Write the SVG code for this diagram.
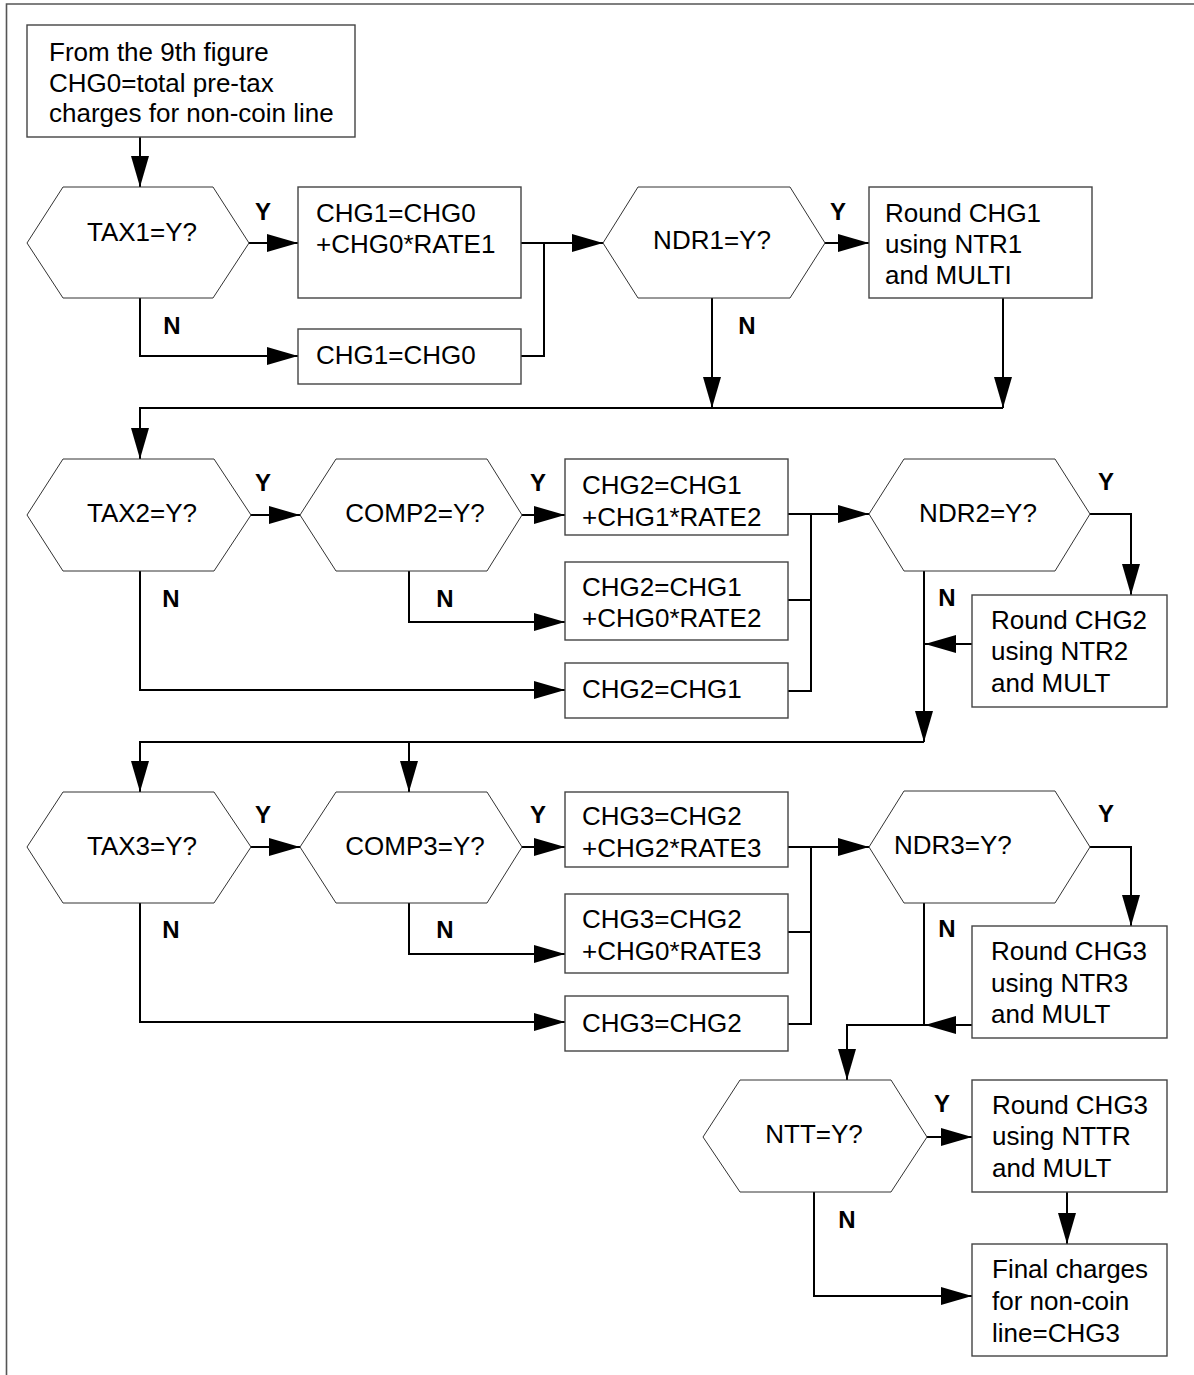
<svg xmlns="http://www.w3.org/2000/svg" width="1194" height="1375" viewBox="0 0 1194 1375">
<defs>
<marker id="ah" markerUnits="userSpaceOnUse" markerWidth="32" markerHeight="18" refX="31" refY="9" orient="auto">
<path d="M0,0 L31,9 L0,18 z" fill="#000"/>
</marker>
<style>
.box{fill:#fff;stroke:#444;stroke-width:1.4}
.hex{fill:#fff;stroke:#333;stroke-width:1}
.t{font-family:"Liberation Sans",Arial,sans-serif;font-size:26px;fill:#000}
.c{text-anchor:middle}
.lb{font-family:"Liberation Sans",Arial,sans-serif;font-size:24px;font-weight:bold;fill:#000;text-anchor:middle}
.ln{fill:none;stroke:#000;stroke-width:2}
.ar{marker-end:url(#ah)}
</style>
</defs>
<rect width="1194" height="1375" fill="#fff"/>
<path d="M6.5,1375 V4 H1194" fill="none" stroke="#555" stroke-width="1.6"/>

<g id="connectors">
<path class="ln ar" d="M140,137 V187"/>
<path class="ln ar" d="M249,243 H298"/>
<path class="ln ar" d="M140,298 V356 H298"/>
<path class="ln ar" d="M521,243 H603"/>
<path class="ln" d="M521,356 H544 V243"/>
<path class="ln ar" d="M825,243 H869"/>
<path class="ln ar" d="M712,298 V408"/>
<path class="ln ar" d="M1003,298 V408"/>
<path class="ln ar" d="M1003,408 H140 V459"/>
<path class="ln ar" d="M249,515 H300"/>
<path class="ln ar" d="M522,515 H565"/>
<path class="ln ar" d="M409,571 V622 H565"/>
<path class="ln ar" d="M140,571 V690 H565"/>
<path class="ln ar" d="M788,514 H869"/>
<path class="ln" d="M788,600 H811"/>
<path class="ln" d="M788,691 H811 V514"/>
<path class="ln ar" d="M1090,514 H1131 V595"/>
<path class="ln ar" d="M972,644 H925"/>
<path class="ln ar" d="M924,571 V742"/>
<path class="ln ar" d="M924,742 H140 V792"/>
<path class="ln ar" d="M409,742 V792"/>
<path class="ln ar" d="M249,847 H300"/>
<path class="ln ar" d="M522,847 H565"/>
<path class="ln ar" d="M409,903 V954 H565"/>
<path class="ln ar" d="M140,903 V1022 H565"/>
<path class="ln ar" d="M788,847 H869"/>
<path class="ln" d="M788,932 H811"/>
<path class="ln" d="M788,1024 H811 V847"/>
<path class="ln ar" d="M1090,847 H1131 V926"/>
<path class="ln ar" d="M972,1025 H925"/>
<path class="ln ar" d="M924,903 V1025 H847 V1080"/>
<path class="ln ar" d="M927,1137 H972"/>
<path class="ln ar" d="M1067,1192 V1244"/>
<path class="ln ar" d="M814,1192 V1296 H972"/>
</g>

<g id="start">
<rect class="box" x="27" y="25" width="328" height="112"/>
<text class="t" x="49" y="61">From the 9th figure</text>
<text class="t" x="49" y="92">CHG0=total pre-tax</text>
<text class="t" x="49" y="122">charges for non-coin line</text>
</g>

<g id="tax1">
<polygon class="hex" points="27,243 63,187 213,187 249,243 213,298 63,298"/>
<text class="t c" x="142" y="241">TAX1=Y?</text>
</g>
<g id="chg1a">
<rect class="box" x="298" y="187" width="223" height="111"/>
<text class="t" x="316" y="222">CHG1=CHG0</text>
<text class="t" x="316" y="253">+CHG0*RATE1</text>
</g>
<g id="chg1b">
<rect class="box" x="298" y="329" width="223" height="55"/>
<text class="t" x="316" y="364">CHG1=CHG0</text>
</g>
<g id="ndr1">
<polygon class="hex" points="603,243 638,187 790,187 825,243 790,298 638,298"/>
<text class="t c" x="712" y="249">NDR1=Y?</text>
</g>
<g id="round1">
<rect class="box" x="869" y="187" width="223" height="111"/>
<text class="t" x="885" y="222">Round CHG1</text>
<text class="t" x="885" y="253">using NTR1</text>
<text class="t" x="885" y="284">and MULTI</text>
</g>

<g id="tax2">
<polygon class="hex" points="27,515 63,459 214,459 251,515 214,571 63,571"/>
<text class="t c" x="142" y="522">TAX2=Y?</text>
</g>
<g id="comp2">
<polygon class="hex" points="300,515 336,459 487,459 522,515 487,571 336,571"/>
<text class="t c" x="415" y="522">COMP2=Y?</text>
</g>
<g id="chg2a">
<rect class="box" x="565" y="459" width="223" height="76"/>
<text class="t" x="582" y="494">CHG2=CHG1</text>
<text class="t" x="582" y="526">+CHG1*RATE2</text>
</g>
<g id="chg2b">
<rect class="box" x="565" y="562" width="223" height="78"/>
<text class="t" x="582" y="596">CHG2=CHG1</text>
<text class="t" x="582" y="627">+CHG0*RATE2</text>
</g>
<g id="chg2c">
<rect class="box" x="565" y="663" width="223" height="55"/>
<text class="t" x="582" y="698">CHG2=CHG1</text>
</g>
<g id="ndr2">
<polygon class="hex" points="869,514 904,459 1055,459 1090,514 1055,571 904,571"/>
<text class="t c" x="978" y="522">NDR2=Y?</text>
</g>
<g id="round2">
<rect class="box" x="972" y="595" width="195" height="112"/>
<text class="t" x="991" y="629">Round CHG2</text>
<text class="t" x="991" y="660">using NTR2</text>
<text class="t" x="991" y="692">and MULT</text>
</g>

<g id="tax3">
<polygon class="hex" points="27,847 63,792 214,792 251,847 214,903 63,903"/>
<text class="t c" x="142" y="855">TAX3=Y?</text>
</g>
<g id="comp3">
<polygon class="hex" points="300,847 336,792 487,792 522,847 487,903 336,903"/>
<text class="t c" x="415" y="855">COMP3=Y?</text>
</g>
<g id="chg3a">
<rect class="box" x="565" y="792" width="223" height="75"/>
<text class="t" x="582" y="825">CHG3=CHG2</text>
<text class="t" x="582" y="857">+CHG2*RATE3</text>
</g>
<g id="chg3b">
<rect class="box" x="565" y="894" width="223" height="79"/>
<text class="t" x="582" y="928">CHG3=CHG2</text>
<text class="t" x="582" y="960">+CHG0*RATE3</text>
</g>
<g id="chg3c">
<rect class="box" x="565" y="996" width="223" height="55"/>
<text class="t" x="582" y="1032">CHG3=CHG2</text>
</g>
<g id="ndr3">
<polygon class="hex" points="869,847 904,791 1055,791 1090,847 1055,903 904,903"/>
<text class="t" x="894" y="854">NDR3=Y?</text>
</g>
<g id="round3">
<rect class="box" x="972" y="926" width="195" height="112"/>
<text class="t" x="991" y="960">Round CHG3</text>
<text class="t" x="991" y="992">using NTR3</text>
<text class="t" x="991" y="1023">and MULT</text>
</g>

<g id="ntt">
<polygon class="hex" points="703,1137 740,1080 891,1080 927,1137 891,1192 740,1192"/>
<text class="t c" x="814" y="1143">NTT=Y?</text>
</g>
<g id="round4">
<rect class="box" x="972" y="1080" width="195" height="112"/>
<text class="t" x="992" y="1114">Round CHG3</text>
<text class="t" x="992" y="1145">using NTTR</text>
<text class="t" x="992" y="1177">and MULT</text>
</g>
<g id="final">
<rect class="box" x="972" y="1244" width="195" height="112"/>
<text class="t" x="992" y="1278">Final charges</text>
<text class="t" x="992" y="1310">for non-coin</text>
<text class="t" x="992" y="1342">line=CHG3</text>
</g>

<g id="labels">
<text class="lb" x="263" y="220">Y</text>
<text class="lb" x="172" y="334">N</text>
<text class="lb" x="838" y="220">Y</text>
<text class="lb" x="747" y="334">N</text>
<text class="lb" x="263" y="491">Y</text>
<text class="lb" x="171" y="607">N</text>
<text class="lb" x="538" y="491">Y</text>
<text class="lb" x="445" y="607">N</text>
<text class="lb" x="1106" y="490">Y</text>
<text class="lb" x="947" y="606">N</text>
<text class="lb" x="263" y="823">Y</text>
<text class="lb" x="171" y="938">N</text>
<text class="lb" x="538" y="823">Y</text>
<text class="lb" x="445" y="938">N</text>
<text class="lb" x="1106" y="822">Y</text>
<text class="lb" x="947" y="937">N</text>
<text class="lb" x="942" y="1112">Y</text>
<text class="lb" x="847" y="1228">N</text>
</g>
</svg>
